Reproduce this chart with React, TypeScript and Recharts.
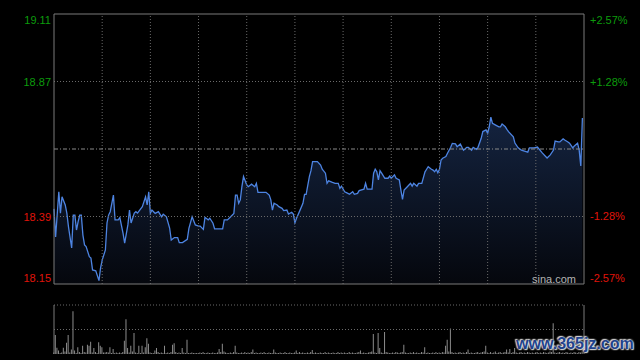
import React from 'react';
import {
  ComposedChart,
  Area,
  Bar,
  XAxis,
  YAxis,
  ReferenceLine,
} from 'recharts';

// intraday points: [minute from open, price]
const pricePoints: [number, number][] = [
  [0, 18.417], [1, 18.317], [3, 18.478], [4, 18.402], [5, 18.46], [7, 18.431], [8, 18.402], [9, 18.354],
  [11, 18.278], [12, 18.395], [13, 18.395], [14, 18.342], [15, 18.371], [16, 18.395], [17, 18.395], [18, 18.324],
  [19, 18.289], [20, 18.283], [22, 18.247], [23, 18.242], [24, 18.2], [26, 18.197], [28, 18.162], [29, 18.207],
  [30, 18.235], [32, 18.271], [33, 18.367], [34, 18.395], [35, 18.407], [37, 18.466], [38, 18.378], [40, 18.378],
  [41, 18.386], [43, 18.33], [44, 18.295], [46, 18.36], [47, 18.413], [48, 18.367], [50, 18.402], [51, 18.407],
  [52, 18.402], [55, 18.425], [57, 18.46], [58, 18.431], [59, 18.478], [60, 18.402], [61, 18.413], [62, 18.407],
  [63, 18.401], [65, 18.407], [67, 18.389], [68, 18.398], [70, 18.389], [72, 18.349], [73, 18.306], [75, 18.315],
  [77, 18.315], [78, 18.297], [80, 18.297], [83, 18.309], [84, 18.348], [86, 18.389], [88, 18.36], [90, 18.356],
  [91, 18.356], [93, 18.344], [94, 18.387], [96, 18.378], [97, 18.384], [99, 18.366], [100, 18.346], [103, 18.346],
  [105, 18.346], [106, 18.378], [108, 18.378], [110, 18.389], [112, 18.401], [113, 18.466], [114, 18.466], [115, 18.437],
  [116, 18.449], [117, 18.496], [118, 18.532], [120, 18.502], [121, 18.496], [123, 18.505], [125, 18.496], [126, 18.508],
  [127, 18.476], [130, 18.476], [132, 18.476], [134, 18.466], [135, 18.449], [136, 18.413], [137, 18.437], [139, 18.431],
  [140, 18.425], [142, 18.419], [143, 18.411], [145, 18.413], [146, 18.399], [148, 18.405], [149, 18.399], [150, 18.368],
  [151, 18.384], [153, 18.41], [155, 18.437], [156, 18.469], [157, 18.469], [159, 18.532], [160, 18.553], [161, 18.585],
  [164, 18.585], [166, 18.573], [167, 18.558], [169, 18.544], [170, 18.508], [171, 18.517], [173, 18.512], [175, 18.508],
  [177, 18.508], [178, 18.49], [179, 18.498], [181, 18.478], [183, 18.472], [184, 18.469], [186, 18.478], [187, 18.469],
  [189, 18.472], [190, 18.482], [193, 18.487], [194, 18.508], [195, 18.487], [198, 18.487], [199, 18.544], [200, 18.558],
  [201, 18.549], [202, 18.52], [203, 18.553], [204, 18.544], [206, 18.526], [208, 18.526], [209, 18.534], [210, 18.526],
  [212, 18.538], [213, 18.526], [215, 18.52], [216, 18.484], [217, 18.451], [218, 18.484], [220, 18.496], [221, 18.502],
  [222, 18.508], [223, 18.498], [224, 18.508], [226, 18.498], [227, 18.508], [229, 18.508], [231, 18.549], [232, 18.558],
  [233, 18.567], [235, 18.558], [236, 18.555], [237, 18.549], [238, 18.558], [239, 18.546], [240, 18.558], [241, 18.591],
  [242, 18.597], [244, 18.603], [245, 18.615], [247, 18.636], [248, 18.65], [250, 18.648], [251, 18.638], [253, 18.648],
  [254, 18.636], [255, 18.626], [257, 18.636], [258, 18.636], [260, 18.626], [261, 18.636], [263, 18.629], [264, 18.636],
  [266, 18.668], [267, 18.692], [269, 18.698], [270, 18.686], [271, 18.709], [272, 18.743], [273, 18.721], [275, 18.715],
  [277, 18.709], [278, 18.709], [279, 18.719], [281, 18.709], [282, 18.7], [283, 18.692], [286, 18.673], [287, 18.651],
  [289, 18.634], [291, 18.626], [295, 18.619], [296, 18.634], [299, 18.634], [301, 18.637], [304, 18.616], [307, 18.598],
  [309, 18.609], [311, 18.626], [312, 18.658], [314, 18.655], [315, 18.655], [317, 18.666], [318, 18.662], [320, 18.655],
  [321, 18.651], [323, 18.634], [324, 18.641], [326, 18.651], [327, 18.626], [328, 18.57], [329, 18.74],
];

// volume per minute (relative units, 100 = top of panel)
const volumes = [
  3, 39, 13, 7, 2, 3, 13, 5, 23, 39, 3, 9, 87, 7, 2, 14, 4, 2, 17, 4, 3, 19, 17, 25, 3, 12, 4, 2, 24, 17,
  14, 3, 3, 4, 3, 14, 2, 10, 2, 3, 2, 3, 2, 4, 27, 71, 12, 3, 17, 5, 43, 3, 2, 17, 2, 17, 3, 14, 32, 21,
  3, 2, 2, 7, 12, 4, 2, 3, 2, 17, 2, 3, 2, 4, 19, 22, 4, 2, 3, 2, 12, 3, 2, 29, 2, 2, 3, 2, 2, 2,
  2, 3, 2, 4, 2, 2, 3, 2, 2, 3, 2, 2, 3, 10, 4, 21, 5, 3, 2, 2, 3, 2, 4, 17, 3, 2, 2, 3, 2, 4,
  2, 3, 2, 4, 9, 2, 3, 2, 2, 3, 2, 4, 2, 2, 3, 2, 2, 9, 3, 2, 2, 3, 2, 2, 4, 2, 2, 3, 2, 2,
  3, 7, 2, 4, 2, 3, 2, 2, 3, 2, 4, 8, 2, 3, 2, 2, 3, 2, 2, 4, 2, 3, 2, 2, 3, 2, 2, 4, 2, 3,
  2, 3, 2, 2, 4, 2, 3, 2, 2, 3, 4, 7, 2, 3, 2, 2, 3, 4, 5, 41, 3, 2, 43, 12, 3, 2, 45, 4, 3, 2,
  2, 3, 2, 4, 3, 2, 3, 4, 19, 3, 2, 2, 3, 2, 4, 2, 3, 2, 2, 4, 3, 14, 2, 3, 2, 2, 3, 2, 4, 2,
  3, 2, 4, 3, 17, 29, 5, 52, 4, 2, 3, 2, 3, 4, 2, 3, 2, 4, 9, 2, 3, 2, 2, 3, 4, 2, 3, 4, 5, 17,
  3, 2, 4, 2, 3, 5, 2, 3, 4, 2, 3, 4, 9, 3, 10, 2, 4, 12, 3, 2, 3, 4, 2, 3, 2, 4, 3, 2, 3, 2,
  3, 4, 2, 3, 2, 4, 3, 2, 3, 5, 4, 63, 3, 2, 3, 4, 2, 3, 2, 4, 3, 2, 3, 2, 4, 3, 2, 4, 3, 5,
];

const PREV_CLOSE = 18.63;
const priceTicks = [18.15, 18.39, 18.63, 18.87, 19.11];
const pctTicks = [-2.57, -1.28, 0, 1.28, 2.57];
const pctLabels = ['-2.57%', '-1.28%', '', '+1.28%', '+2.57%'];
const timeGrid = [30, 60, 90, 120, 150, 180, 210, 240, 270, 300];

const GREEN = '#0c9c0c';
const RED = '#e0140a';
const GRID = '#6a6a6a';
const BORDER = '#7a7a7a';
const FONT = '"Liberation Sans", Arial, sans-serif';

const priceData = pricePoints.map(([m, price]) => ({ m, price }));
const volumeData = volumes.map((v, m) => ({ m, v }));

// keep the edge labels inside the plot, like the original
function edgeShift(i: number, n: number) {
  if (i === 0) return -6;
  if (i === n - 1) return 6;
  return 0;
}

function PriceTick(props: any) {
  const { x, y, payload, index } = props;
  const v = payload.value as number;
  if (v === PREV_CLOSE) return <g />;
  return (
    <text
      x={x}
      y={y + edgeShift(index, priceTicks.length)}
      dy={4}
      textAnchor="end"
      fill={v > PREV_CLOSE ? GREEN : RED}
      fontSize={11}
      fontFamily={FONT}
    >
      {v.toFixed(2)}
    </text>
  );
}

function PctTick(props: any) {
  const { x, y, payload, index } = props;
  const v = payload.value as number;
  if (v === 0) return <g />;
  return (
    <text
      x={x}
      y={y + edgeShift(index, pctTicks.length)}
      dy={4}
      textAnchor="start"
      fill={v > 0 ? GREEN : RED}
      fontSize={11}
      fontFamily={FONT}
    >
      {pctLabels[index]}
    </text>
  );
}

export default function App() {
  return (
    <div
      style={{
        position: 'absolute',
        left: 0,
        top: 0,
        width: 640,
        height: 360,
        background: '#000',
        overflow: 'hidden',
        fontFamily: FONT,
      }}
    >
      <ComposedChart
        width={640}
        height={300}
        data={priceData}
        margin={{ top: 14, right: 0, bottom: 16, left: 0 }}
      >
        <defs>
          <linearGradient id="areaFill" x1="0" y1="0" x2="0" y2="1">
            <stop offset="0%" stopColor="#14233f" />
            <stop offset="100%" stopColor="#05070d" />
          </linearGradient>
        </defs>
        <XAxis type="number" dataKey="m" domain={[0, 330]} hide />
        <YAxis
          yAxisId="p"
          domain={[18.15, 19.11]}
          ticks={priceTicks}
          interval={0}
          width={54}
          axisLine={false}
          tickLine={false}
          tickSize={0}
          tickMargin={3}
          tick={<PriceTick />}
          allowDataOverflow
        />
        <YAxis
          yAxisId="pct"
          orientation="right"
          domain={[-2.57, 2.57]}
          ticks={pctTicks}
          interval={0}
          width={56}
          axisLine={false}
          tickLine={false}
          tickSize={0}
          tickMargin={6}
          tick={<PctTick />}
          allowDataOverflow
        />
        {timeGrid.map((t) => (
          <ReferenceLine key={t} yAxisId="p" x={t} stroke={GRID} strokeDasharray="1 2" />
        ))}
        <ReferenceLine yAxisId="p" y={18.87} stroke={GRID} strokeDasharray="1 2" />
        <ReferenceLine yAxisId="p" y={18.39} stroke={GRID} strokeDasharray="1 2" />
        <Area
          yAxisId="p"
          type="linear"
          dataKey="price"
          stroke="#4d84e2"
          strokeWidth={1.3}
          fill="url(#areaFill)"
          fillOpacity={1}
          baseValue={18.15}
          dot={false}
          activeDot={false}
          isAnimationActive={false}
        />
        <ReferenceLine yAxisId="p" y={PREV_CLOSE} stroke="#8a8a8a" strokeDasharray="4 2 1 2" />
        <ReferenceLine yAxisId="p" y={19.11} stroke={BORDER} />
        <ReferenceLine yAxisId="p" y={18.15} stroke={BORDER} />
        <ReferenceLine yAxisId="p" x={0} stroke={BORDER} />
        <ReferenceLine yAxisId="p" x={330} stroke={BORDER} />
      </ComposedChart>

      <div
        style={{
          position: 'absolute',
          left: 532,
          top: 272,
          color: '#b4b4b4',
          fontSize: 11,
          lineHeight: '14px',
        }}
      >
        sina.com
      </div>

      <div style={{ position: 'absolute', left: 0, top: 300 }}>
        <ComposedChart
          width={640}
          height={60}
          data={volumeData}
          margin={{ top: 5, right: 56, bottom: 6, left: 54 }}
        >
          <XAxis type="number" dataKey="m" domain={[0, 330]} hide />
          <YAxis domain={[0, 100]} hide />
          <ReferenceLine y={100} stroke={GRID} strokeDasharray="1 2" />
          <ReferenceLine y={50} stroke={GRID} strokeDasharray="1 2" />
          <Bar dataKey="v" fill="#8c8c8c" barSize={1} isAnimationActive={false} />
          <ReferenceLine x={0} stroke={BORDER} />
          <ReferenceLine x={330} stroke={BORDER} />
        </ComposedChart>
      </div>

      <div
        style={{
          position: 'absolute',
          left: 516,
          top: 334,
          color: '#21428c',
          fontSize: 16,
          fontWeight: 'bold',
          lineHeight: '20px',
          textShadow:
            '0 0 2px #e8e8e8, 0 0 2px #e8e8e8, 1px 1px 1px #cfcfcf, -1px -1px 1px #cfcfcf',
        }}
      >
        www.365jz.com
      </div>
    </div>
  );
}
